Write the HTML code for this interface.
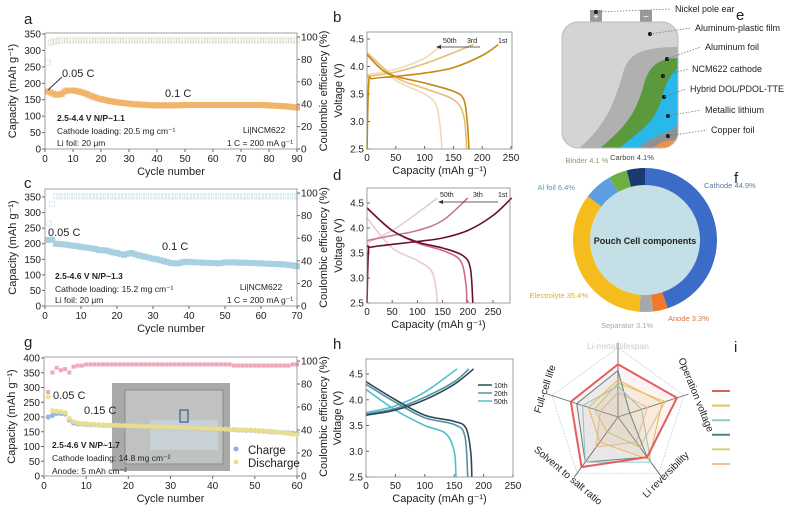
<!DOCTYPE html>
<html><head><meta charset="utf-8"><style>
body{margin:0;background:#fff}
svg{display:block;font-family:"Liberation Sans",sans-serif}
</style></head><body>
<svg id="fig" width="788" height="512" viewBox="0 0 788 512">
<g id="root"></g>
</svg>
<script>
// ---------- data ----------
const aCap=[175,172,168,165,166,168,175,178,178,178,177,175,173,170,167,163,160,157,154,152,150,148,146,145,143,142,141,140,139,138,137,136,136,135,135,134,134,133,133,133,133,133,133,133,133,133,133,133,133,134,134,134,134,134,134,134,134,134,134,134,134,134,134,134,134,134,134,134,134,134,134,134,134,134,134,134,134,134,133,133,132,132,131,131,130,130,129,128,127,126];
const aCE=[77,95,96,96,97,97,97,97,97,97,97,97,97,97,97,97,97,97,97,97,97,97,97,97,97,97,97,97,97,97,97,97,97,97,97,97,97,97,97,97,97,97,97,97,97,97,97,97,97,97,97,97,97,97,97,97,97,97,97,97,97,97,97,97,97,97,97,97,97,97,97,97,97,97,97,97,97,97,97,97,97,97,97,97,97,97,97,97,97,97];
const cCap=[212,213,200,199,198,197,195,193,192,190,188,187,185,183,180,179,178,175,172,170,167,164,168,170,166,163,160,158,155,152,150,147,144,141,138,137,137,140,142,141,141,140,140,139,139,138,138,137,138,140,140,140,140,139,139,139,138,138,137,137,136,136,135,135,134,134,133,131,130,128];
const cCE=[73,90,97,97,97,97,97,97,97,97,97,97,97,97,97,97,97,97,97,97,97,97,97,97,97,97,97,97,97,97,97,97,97,97,97,97,97,97,97,97,97,97,97,97,97,97,97,97,97,97,97,97,97,97,97,97,97,97,97,97,97,97,97,97,97,97,97,97,97,97];
const gCharge=[200,205,212,212,210,190,180,177,176,175,174,174,173,172,172,171,171,170,170,169,169,168,168,167,167,166,166,165,165,164,164,163,163,162,162,161,161,160,160,159,159,158,158,157,157,156,156,155,155,154,153,152,151,150,149,148,147,146,145,144];
const gDischarge=[268,222,220,218,215,195,185,180,178,177,176,175,174,173,173,172,172,171,171,170,170,169,169,168,168,167,167,166,166,165,165,164,164,163,163,162,162,161,161,160,160,159,159,158,158,157,157,156,156,155,154,153,152,151,150,148,146,144,142,140];
const gCE=[73,90,94,92,93,90,95,96,96,97,97,97,97,97,97,97,97,97,97,97,97,97,97,97,97,97,97,97,97,97,97,97,97,97,97,97,97,97,97,97,97,97,97,97,96,96,96,96,96,96,96,96,96,96,96,96,96,96,97,97];
// voltage profiles [capacity, voltage]
const b1c=[[0,2.5],[3,3.7],[10,3.78],[50,3.82],[100,3.88],[150,3.98],[200,4.2],[228,4.4]];
const b1d=[[0,4.22],[25,3.95],[50,3.82],[100,3.7],[150,3.55],[168,3.4],[174,3.0],[177,2.5]];
const b3c=[[0,3.82],[50,3.9],[100,4.05],[150,4.25],[185,4.4]];
const b3d=[[0,4.25],[50,3.8],[100,3.6],[150,3.4],[168,3.1],[173,2.5]];
const b50c=[[0,3.85],[50,3.95],[100,4.15],[130,4.4]];
const b50d=[[0,4.2],[50,3.75],[100,3.5],[120,3.3],[127,2.9],[130,2.5]];
const d1c=[[0,2.5],[3,3.55],[10,3.62],[100,3.73],[150,3.8],[200,3.95],[250,4.25],[287,4.6]];
const d1d=[[0,4.4],[50,3.95],[100,3.72],[150,3.6],[190,3.45],[205,3.2],[210,2.5]];
const d3c=[[0,3.75],[50,3.85],[100,3.95],[150,4.15],[200,4.6]];
const d3d=[[0,4.4],[50,3.95],[100,3.7],[150,3.55],[185,3.35],[196,2.9],[198,2.5]];
const d50c=[[0,3.7],[50,3.95],[100,4.3],[140,4.6]];
const d50d=[[0,4.2],[50,3.6],[100,3.35],[130,3.1],[140,2.5]];
const h10c=[[0,3.7],[50,3.8],[100,4.0],[150,4.3],[183,4.6]];
const h10d=[[0,4.35],[50,4.0],[100,3.7],[150,3.58],[170,3.45],[178,3.0],[180,2.5]];
const h20c=[[0,3.72],[50,3.83],[100,4.05],[150,4.35],[175,4.6]];
const h20d=[[0,4.3],[50,3.95],[100,3.65],[150,3.52],[168,3.3],[173,2.5]];
const h50c=[[0,3.75],[50,3.88],[100,4.15],[155,4.6]];
const h50d=[[0,4.2],[50,3.8],[100,3.5],[135,3.35],[150,3.0],[153,2.5]];
// donut
const pieLabels=["Cathode 44.9%","Anode 3.3%","Separator 3.1%","Electrolyte 35.4%","Al foil 6.4%","Binder 4.1 %","Carbon 4.1%"];
const pieValues=[44.9,3.3,3.1,34.1,6.4,4.1,4.1];
// radar: axes top, upper-right, lower-right, lower-left, upper-left
const radarAxes=["Li-metal lifespan","Operation voltage","Li reversibility","Solvent to salt ratio","Full-cell life"];
const radarS1=[0.85,1.0,0.8,1.0,0.8];
const radarS2=[0.6,0.75,0.85,0.5,0.5];
const radarS3=[0.5,0.4,0.9,0.9,0.6];
const radarS4=[0.75,0.2,0.8,0.9,0.7];
const radarS5=[0.55,0.8,0.6,0.3,0.4];
const radarS6=[0.4,0.5,0.5,0.6,0.3];

// ---------- helpers ----------
const NS="http://www.w3.org/2000/svg";
const root=document.getElementById('root');
function el(tag,attrs,parent,text){const e=document.createElementNS(NS,tag);for(const k in attrs)e.setAttribute(k,attrs[k]);if(text!==undefined)e.textContent=text;(parent||root).appendChild(e);return e;}
function txt(x,y,s,size,opt,name){opt=opt||{};const t=el('text',Object.assign({x:x,y:y,'font-size':size,fill:opt.fill||'#222','text-anchor':opt.anchor||'start'},opt.extra||{}),opt.parent,s);

return t;}
function lin(d0,d1,r0,r1){return v=>r0+(v-d0)*(r1-r0)/(d1-d0);}
function frame(x0,y0,x1,y1,name){const r=el('rect',{x:x0,y:y0,width:x1-x0,height:y1-y0,fill:'none',stroke:'#888','stroke-width':0.8});

}
function smooth(pts){let d='M'+pts[0][0]+' '+pts[0][1];
  for(let i=0;i<pts.length-1;i++){const p0=pts[i-1]||pts[i],p1=pts[i],p2=pts[i+1],p3=pts[i+2]||p2;
    const c1=[p1[0]+(p2[0]-p0[0])/6,p1[1]+(p2[1]-p0[1])/6],c2=[p2[0]-(p3[0]-p1[0])/6,p2[1]-(p3[1]-p1[1])/6];
    d+=` C${c1[0]} ${c1[1]} ${c2[0]} ${c2[1]} ${p2[0]} ${p2[1]}`;}
  return d;}

const TK=10, AT=11;
function cyclePanel(P){
  const g=el('g',{});
  
  
  const X=lin(0,P.xmax,P.x0,P.x1), Y=lin(0,P.ymax,P.yb,P.yt), Y2=lin(0,100,P.yb,P.yce);
  frame(P.x0,P.ytop,P.x1,P.yb,P.name+'-frame');
  P.yticks.forEach(v=>{el('line',{x1:P.x0-3,x2:P.x0,y1:Y(v),y2:Y(v),stroke:'#666'},g);txt(P.x0-4,Y(v)+3.5,v,TK,{anchor:'end',parent:g},'y-tick-label');});
  [0,20,40,60,80,100].forEach(v=>{el('line',{x1:P.x1,x2:P.x1+3,y1:Y2(v),y2:Y2(v),stroke:'#666'},g);txt(P.x1+4,Y2(v)+3.5,v,TK,{parent:g},'y2-tick-label');});
  P.xticks.forEach(v=>{el('line',{x1:X(v),x2:X(v),y1:P.yb,y2:P.yb+3,stroke:'#666'},g);txt(X(v),P.yb+13,v,TK,{anchor:'middle',parent:g},'x-tick-label');});
  txt((P.x0+P.x1)/2,P.yb+26,'Cycle number',AT,{anchor:'middle',parent:g},'x-axis-title');
  txt(0,0,'Capacity (mAh g⁻¹)',AT,{anchor:'middle',parent:g,extra:{transform:`translate(${P.x0-29},${(P.ytop+P.yb)/2}) rotate(-90)`}},'y-axis-title');
  txt(0,0,'Coulombic efficiency (%)',AT,{anchor:'middle',parent:g,extra:{transform:`translate(${P.x1+30},${(P.ytop+P.yb)/2}) rotate(-90)`}},'y2-axis-title');
  P.series.forEach(s=>{
    s.vals.forEach((v,i)=>{const c=i+1;
      const m=el('rect',{x:X(c)-s.sz/2,y:(s.ce?Y2(v):Y(v))-s.sz/2,width:s.sz,height:s.sz,fill:s.fill,stroke:s.stroke||'none','stroke-width':0.6,opacity:s.op||1},g);
      
      
    });
  });
  return {X,Y,Y2};
}

function vPanel(P){
  const g=el('g',{});
  
  
  const X=lin(0,250,P.x0,P.x250), Y=lin(2.5,4.5,P.yb,P.y45);
  frame(P.x0,P.ytop,P.x1,P.yb,P.name+'-frame');
  [2.5,3.0,3.5,4.0,4.5].forEach(v=>{el('line',{x1:P.x0,x2:P.x0+3,y1:Y(v),y2:Y(v),stroke:'#666'},g);txt(P.x0-3,Y(v)+3.5,v.toFixed(1),TK,{anchor:'end',parent:g},'y-tick-label');});
  P.xticks.forEach(v=>{el('line',{x1:X(v),x2:X(v),y1:P.yb,y2:P.yb-3,stroke:'#666'},g);txt(X(v),P.yb+12,v,TK,{anchor:'middle',parent:g},'x-tick-label');});
  txt((P.x0+P.x1)/2,P.yb+25,'Capacity (mAh g⁻¹)',AT,{anchor:'middle',parent:g},'x-axis-title');
  txt(0,0,'Voltage (V)',AT,{anchor:'middle',parent:g,extra:{transform:`translate(${P.x0-25},${(P.ytop+P.yb)/2}) rotate(-90)`}},'y-axis-title');
  P.curves.forEach(c=>{
    const pl=el('path',{d:smooth(c.d.map(p=>[X(p[0]),Y(p[1])])),fill:'none',stroke:c.col,'stroke-width':1.6,'stroke-linejoin':'round'},g);
    
    
  });
  return {X,Y,g};
}

// ---------- panel letters ----------
[['a',24,24],['b',333,22],['e',736,20],['c',24,188],['d',333,180],['f',734,183],['g',24,347],['h',333,349],['i',734,352]].forEach(l=>txt(l[1],l[2],l[0],15,{},'panel-letter-'+l[0]));

// ---------- a ----------
cyclePanel({name:'panel-a',x0:45,x1:297,ytop:33,yt:34,yb:149,yce:37,xmax:90,ymax:350,yticks:[0,50,100,150,200,250,300,350],xticks:[0,10,20,30,40,50,60,70,80,90],
 series:[{name:'a-ce',vals:aCE,ce:true,fill:'none',stroke:'#d8d8c8',sz:5},{name:'a-capacity',vals:aCap,fill:'#f0b468',op:0.9,sz:6}]});
txt(62,77,'0.05 C',11,{},'rate-label');el('line',{x1:48,y1:90,x2:62,y2:77,stroke:'#333'});
txt(165,97,'0.1 C',11,{},'rate-label');
txt(57,121,'2.5-4.4 V N/P~1.1',8.5,{extra:{'font-weight':'bold'}},'condition-label');
txt(57,134,'Cathode loading: 20.5 mg cm⁻¹',8.5,{},'condition-label');
txt(57,146,'Li foil: 20 μm',8.5,{},'condition-label');
txt(264,133,'Li|NCM622',8.5,{anchor:'middle'},'cell-label');
txt(260,146,'1 C = 200 mA g⁻¹',8.5,{anchor:'middle'},'cell-label');

// ---------- c ----------
cyclePanel({name:'panel-c',x0:45,x1:297,ytop:189,yt:197,yb:306,yce:193,xmax:70,ymax:350,yticks:[0,50,100,150,200,250,300,350],xticks:[0,10,20,30,40,50,60,70],
 series:[{name:'c-ce',vals:cCE,ce:true,fill:'none',stroke:'#c8e0e8',sz:5},{name:'c-capacity',vals:cCap,fill:'#a8d0e0',sz:6}]});
txt(48,236,'0.05 C',11,{},'rate-label');txt(162,250,'0.1 C',11,{},'rate-label');
txt(55,279,'2.5-4.6 V N/P~1.3',8.5,{extra:{'font-weight':'bold'}},'condition-label');
txt(55,292,'Cathode loading: 15.2 mg cm⁻¹',8.5,{},'condition-label');
txt(55,303,'Li foil: 20 μm',8.5,{},'condition-label');
txt(261,290,'Li|NCM622',8.5,{anchor:'middle'},'cell-label');
txt(260,303,'1 C = 200 mA g⁻¹',8.5,{anchor:'middle'},'cell-label');

// ---------- g ----------
const pg=cyclePanel({name:'panel-g',x0:44,x1:297,ytop:357,yt:358,yb:476,yce:361,xmax:60,ymax:400,yticks:[0,50,100,150,200,250,300,350,400],xticks:[0,10,20,30,40,50,60],
 series:[{name:'g-ce',vals:gCE,ce:true,fill:'#f0a8b8',sz:4}]});
const photo=el('rect',{x:112,y:383,width:118,height:88,fill:'#a8aaa8'});


el('rect',{x:125,y:390,width:98,height:74,fill:'#c0c2c0',stroke:'#8a8c8a'});
el('rect',{x:150,y:420,width:68,height:30,fill:'#c8d0d8'});
el('rect',{x:180,y:410,width:8,height:12,fill:'none',stroke:'#5070a0','stroke-width':1.5});
[['g-charge',gCharge,'#90b0e0'],['g-discharge',gDischarge,'#f0e088']].forEach(s=>{
  s[1].forEach((v,i)=>{const m=el('circle',{cx:pg.X(i+1),cy:pg.Y(v),r:2.6,fill:s[2],opacity:0.9});
  
  });
});
txt(53,399,'0.05 C',11,{},'rate-label');txt(84,414,'0.15 C',11,{},'rate-label');
txt(52,448,'2.5-4.6 V    N/P~1.7',8.5,{extra:{'font-weight':'bold'}},'condition-label');
txt(52,461,'Cathode loading: 14.8 mg cm⁻²',8.5,{},'condition-label');
txt(52,474,'Anode: 5 mAh cm⁻²',8.5,{},'condition-label');
el('circle',{cx:236,cy:449,r:2.5,fill:'#90b0e0'});txt(248,454,'Charge',11.5,{},'legend-entry-charge');
el('circle',{cx:236,cy:462,r:2.5,fill:'#f0e088'});txt(248,467,'Discharge',11.5,{},'legend-entry-discharge');

// ---------- b ----------
vPanel({name:'panel-b',x0:367,x250:511,x1:512,ytop:32,y45:39,yb:149,xticks:[0,50,100,150,200,250],
 curves:[{name:'b-50th-charge',d:b50c,col:'#f0dcb0'},{name:'b-50th-discharge',d:b50d,col:'#f0dcb0'},{name:'b-3rd-charge',d:b3c,col:'#e6bc78'},{name:'b-3rd-discharge',d:b3d,col:'#e6bc78'},{name:'b-1st-charge',d:b1c,col:'#c8880c'},{name:'b-1st-discharge',d:b1d,col:'#c8880c'}]});
el('line',{x1:480,y1:47,x2:438,y2:47,stroke:'#333','stroke-width':0.8});el('path',{d:'M436 47 l5 -2 v4z',fill:'#333'});
txt(443,43,'50th',7,{},'curve-label');txt(467,43,'3rd',7,{},'curve-label');txt(498,43,'1st',7,{},'curve-label');

// ---------- d ----------
vPanel({name:'panel-d',x0:367,x250:493,x1:510,ytop:188,y45:203,yb:303,xticks:[0,50,100,150,200,250],
 curves:[{name:'d-50th-charge',d:d50c,col:'#e8ccd4'},{name:'d-50th-discharge',d:d50d,col:'#e8ccd4'},{name:'d-3rd-charge',d:d3c,col:'#c87890'},{name:'d-3rd-discharge',d:d3d,col:'#d06a88'},{name:'d-1st-charge',d:d1c,col:'#6a1028'},{name:'d-1st-discharge',d:d1d,col:'#6a1028'}]});
el('line',{x1:498,y1:202,x2:440,y2:202,stroke:'#333','stroke-width':0.8});el('path',{d:'M438 202 l5 -2 v4z',fill:'#333'});
txt(440,197,'50th',7,{},'curve-label');txt(473,197,'3th',7,{},'curve-label');txt(498,197,'1st',7,{},'curve-label');

// ---------- h ----------
vPanel({name:'panel-h',x0:366,x250:513,x1:513,ytop:359,y45:374,yb:477,xticks:[0,50,100,150,200,250],
 curves:[{name:'h-50th-charge',d:h50c,col:'#50c0d0'},{name:'h-50th-discharge',d:h50d,col:'#50c0d0'},{name:'h-20th-charge',d:h20c,col:'#5890a0'},{name:'h-20th-discharge',d:h20d,col:'#5890a0'},{name:'h-10th-charge',d:h10c,col:'#2a4a5a'},{name:'h-10th-discharge',d:h10d,col:'#2a4a5a'}]});
[['10th','#2a4a5a',385],['20th','#5890a0',393],['50th','#50c0d0',401]].forEach(l=>{el('line',{x1:478,x2:492,y1:l[2],y2:l[2],stroke:l[1],'stroke-width':1.5});txt(494,l[2]+3,l[0],7,{},'legend-entry-'+l[0]);});

// ---------- e (pouch schematic) ----------
(function(){
  const g=el('g',{});
  
  
  el('rect',{x:590,y:10,width:12,height:12,fill:'#999'},g);el('rect',{x:640,y:10,width:12,height:12,fill:'#999'},g);
  txt(596,20,'+',10,{anchor:'middle',fill:'#fff'},'tab-plus');txt(646,20,'−',10,{anchor:'middle',fill:'#fff'},'tab-minus');
  el('clipPath',{id:'pc'},g);
  const cp=document.getElementById('pc');el('rect',{x:562,y:22,width:116,height:126,rx:16},cp);
  const cg=el('g',{'clip-path':'url(#pc)'},g);
  el('rect',{x:560,y:20,width:120,height:130,fill:'#d4d4d4'},cg);
  const layers=[['#b0b0b0',577,47],['#5a9a3c',598,58],['#28b8ec',617,68],['#909090',636,84],['#f0904c',650,104]];
  layers.forEach(l=>{const bx=l[1],ty=l[2];
    const mx=bx+45, my=ty+30;
    el('path',{d:`M${bx} 150 C ${bx+30} 125, ${mx-8} ${my+25}, ${mx} ${my} C ${mx+5} ${ty+8}, ${mx+15} ${ty}, 680 ${ty} L680 150Z`,fill:l[0]},cg);});
  el('rect',{x:562,y:22,width:116,height:126,rx:16,fill:'none',stroke:'#bbb'},g);
  const lab=[['Nickel pole ear',596,12,675,12],['Aluminum-plastic film',650,34,695,31],['Aluminum foil',667,59,705,50],['NCM622 cathode',663,76,692,72],['Hybrid DOL/PDOL-TTE',664,97,690,92],['Metallic lithium',668,116,705,113],['Copper foil',668,136,711,133]];
  lab.forEach(l=>{el('circle',{cx:l[1],cy:l[2],r:2,fill:'#111'},g);el('line',{x1:l[1],y1:l[2],x2:l[3]-4,y2:l[4]-3,stroke:'#777','stroke-dasharray':'1.5 1.5','stroke-width':0.8},g);txt(l[3],l[4],l[0],9,{parent:g},'schematic-label');});
})();

// ---------- f (donut) ----------
(function(){
  const cx=645,cy=240,R=72,r=55;
  const cols=['#3a6cc8','#f07828','#a8a8a8','#f4bc1c','#5c9ee0','#6cb044','#1a3a70'];
  const labPos=[[704,188,'#5a7aa0','start'],[668,321,'#d07840','start'],[627,328,'#a8a8a8','middle'],[588,298,'#e0b020','end'],[575,190,'#5a9ab8','end'],[587,163,'#8a9a70','middle'],[632,160,'#444','middle']];
  const total=pieValues.reduce((a,b)=>a+b,0);let a0=0;
  el('circle',{cx:cx,cy:cy,r:r,fill:'#c4dfe6'});
  pieValues.forEach((v,i)=>{const a1=a0+v/total*2*Math.PI;
    const p=(a,rr)=>[cx+rr*Math.sin(a),cy-rr*Math.cos(a)];
    const [x0,y0]=p(a0,R),[x1,y1]=p(a1,R),[x2,y2]=p(a1,r),[x3,y3]=p(a0,r);const lg=(a1-a0)>Math.PI?1:0;
    const s=el('path',{d:`M${x0} ${y0} A${R} ${R} 0 ${lg} 1 ${x1} ${y1} L${x2} ${y2} A${r} ${r} 0 ${lg} 0 ${x3} ${y3}Z`,fill:cols[i]});
    
    
    txt(labPos[i][0],labPos[i][1],pieLabels[i],7.5,{fill:labPos[i][2],anchor:labPos[i][3]},'donut-label');
    a0=a1;});
  txt(cx,cy+4,'Pouch Cell components',9,{anchor:'middle',extra:{'font-weight':'bold'}},'donut-center-title');
})();

// ---------- i (radar) ----------
(function(){
  const cx=618,cy=417,R=62;
  const ang=k=>-Math.PI/2+k*2*Math.PI/5;
  const pt=(k,v)=>[cx+R*v*Math.cos(ang(k)),cy+R*v*Math.sin(ang(k))];
  const outer=[0,1,2,3,4].map(k=>pt(k,1.12).join(',')).join(' ');
  el('polygon',{points:outer,fill:'none',stroke:'#bcd','stroke-width':0.7,'stroke-dasharray':'2 1'});
  [0,1,2,3,4].forEach(k=>{const [x,y]=pt(k,1.2);el('line',{x1:cx,y1:cy,x2:x,y2:y,stroke:'#666','stroke-width':0.9});});
  const series=[radarS6,radarS5,radarS4,radarS3,radarS2,radarS1];
  const cols=['#f0c0a0','#d8d070','#50808a','#90c8c8','#e8c050','#e06060'];
  series.forEach((s,i)=>{const pg=el('polygon',{points:s.map((v,k)=>pt(k,v).join(',')).join(' '),fill:cols[i],'fill-opacity':0.08,stroke:cols[i],'stroke-width':i==5?2:1});
    
    });
  txt(cx,349,radarAxes[0],8.5,{anchor:'middle',fill:'#ccc'},'radar-axis-label');
  txt(0,0,radarAxes[1],10,{anchor:'middle',extra:{transform:`translate(693,396) rotate(68)`}},'radar-axis-label');
  txt(0,0,radarAxes[2],10,{anchor:'middle',extra:{transform:`translate(668,477) rotate(-45)`}},'radar-axis-label');
  txt(0,0,radarAxes[3],10,{anchor:'middle',extra:{transform:`translate(566,478) rotate(40)`}},'radar-axis-label');
  txt(0,0,radarAxes[4],10,{anchor:'middle',extra:{transform:`translate(548,390) rotate(-72)`}},'radar-axis-label');
  ['#e06060','#e8c050','#90c8c8','#50808a','#d8d070','#f0c0a0'].forEach((c,i)=>{const l=el('line',{x1:712,x2:730,y1:391+i*14.6,y2:391+i*14.6,stroke:c,'stroke-width':2});
    
    });
})();
</script>
</body></html>
